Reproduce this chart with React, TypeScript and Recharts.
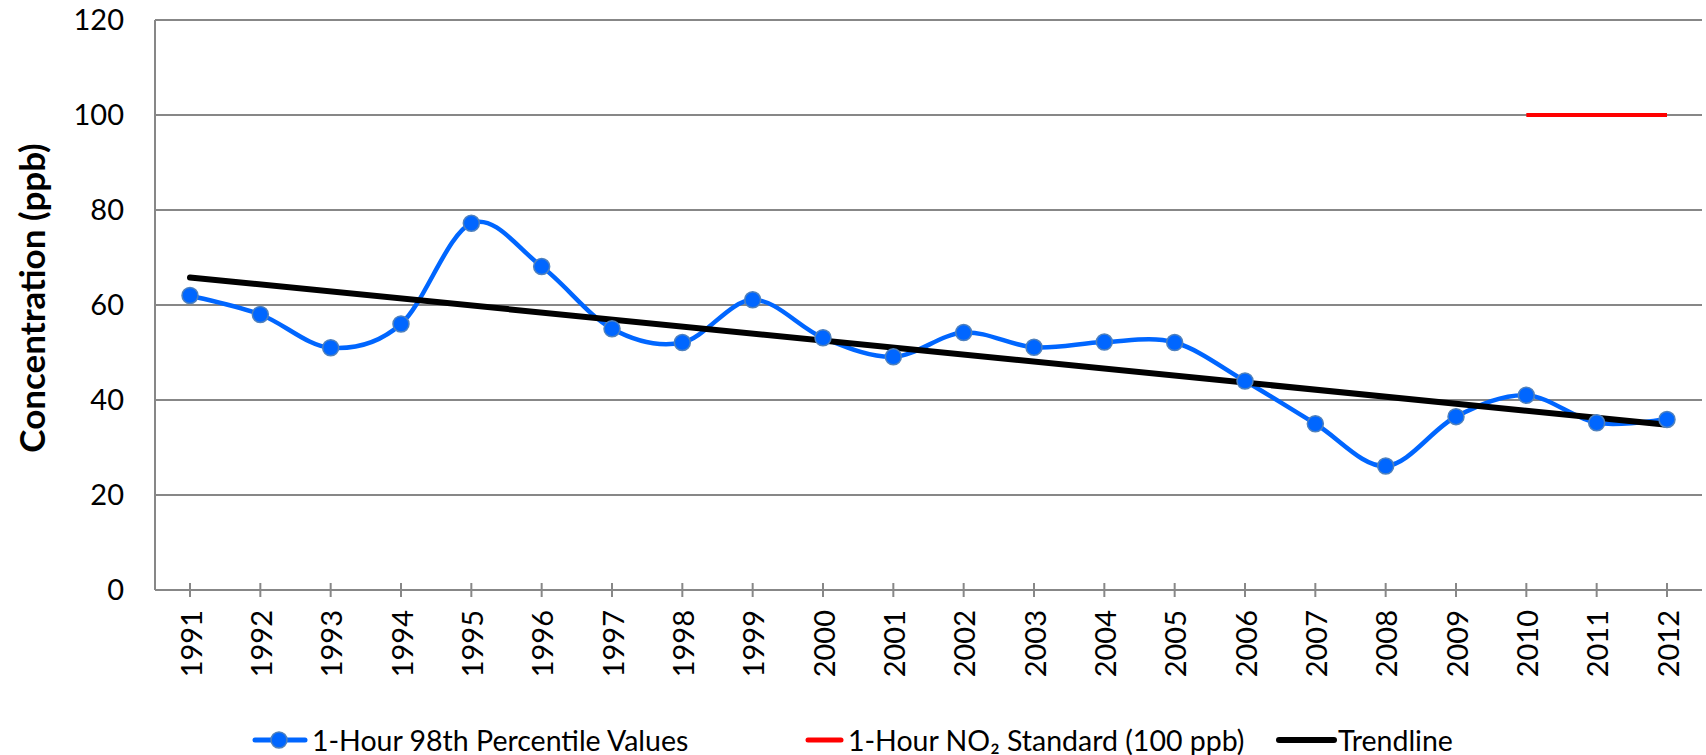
import {
  CartesianGrid,
  Legend,
  Line,
  LineChart,
  XAxis,
  YAxis,
} from 'recharts'

const YEARS = [
  '1991', '1992', '1993', '1994', '1995', '1996', '1997', '1998', '1999', '2000', '2001',
  '2002', '2003', '2004', '2005', '2006', '2007', '2008', '2009', '2010', '2011', '2012',
]

// 1-Hour 98th percentile values (ppb)
const PERCENTILE = [
  62, 58, 51, 56, 77.2, 68.1, 55, 52.1, 61.1, 53.1, 49.1,
  54.2, 51.1, 52.2, 52.1, 44, 35, 26.1, 36.5, 41, 35.2, 35.9,
]

// NO2 standard only drawn for the last three years
const STANDARD = [
  null, null, null, null, null, null, null, null, null, null, null,
  null, null, null, null, null, null, null, null, 100, 100, 100,
]

// trendline endpoints, the line is joined across the gaps
const TREND = [
  65.8, null, null, null, null, null, null, null, null, null, null,
  null, null, null, null, null, null, null, null, null, null, 34.8,
]

const Y_TICKS = [0, 20, 40, 60, 80, 100, 120]

const data = YEARS.map((year, i) => ({
  year,
  percentile: PERCENTILE[i],
  standard: STANDARD[i],
  trend: TREND[i],
}))

const FONT = 'Lato, "Open Sans", sans-serif'
const BLUE = '#0066ff'
const GRID = '#878787'

/** Curva suave no estilo do Excel (Catmull-Rom uniforme). */
function excelSmooth(context: any) {
  let pts: number[][] = []
  return {
    areaStart() {},
    areaEnd() {},
    lineStart() {
      pts = []
    },
    lineEnd() {
      const n = pts.length
      if (n === 0) return
      context.moveTo(pts[0][0], pts[0][1])
      for (let i = 0; i < n - 1; i++) {
        const p0 = pts[Math.max(i - 1, 0)]
        const p1 = pts[i]
        const p2 = pts[i + 1]
        const p3 = pts[Math.min(i + 2, n - 1)]
        context.bezierCurveTo(
          p1[0] + (p2[0] - p0[0]) / 6,
          p1[1] + (p2[1] - p0[1]) / 6,
          p2[0] - (p3[0] - p1[0]) / 6,
          p2[1] - (p3[1] - p1[1]) / 6,
          p2[0],
          p2[1],
        )
      }
    },
    point(x: number, y: number) {
      pts.push([+x, +y])
    },
  }
}

function YearTick({ x, y, payload }: any) {
  const ty = y + 20
  return (
    <g>
      <line x1={x} x2={x} y1={y - 7} y2={y + 7} stroke={GRID} strokeWidth={2} />
      <text
        x={x}
        y={ty}
        transform={`rotate(-90 ${x} ${ty})`}
        textAnchor="end"
        dominantBaseline="central"
        fontFamily={FONT}
        fontSize={29}
        fill="#000"
      >
        {payload.value}
      </text>
    </g>
  )
}

function YLabel({ viewBox }: any) {
  const x = viewBox.x + 31
  const y = viewBox.y + viewBox.height / 2 - 7
  return (
    <text
      x={x}
      y={y}
      transform={`rotate(-90 ${x} ${y})`}
      textAnchor="middle"
      dominantBaseline="central"
      fontFamily={FONT}
      fontSize={35}
      fontWeight={700}
      fill="#000"
    >
      Concentration (ppb)
    </text>
  )
}

function ChartLegend() {
  const text = { fontFamily: FONT, fontSize: 28.5, color: '#000', marginLeft: 4 }
  return (
    <div
      style={{
        height: 55,
        boxSizing: 'border-box',
        paddingTop: 25,
        paddingLeft: 252,
        display: 'flex',
        alignItems: 'center',
      }}
    >
      <div style={{ width: 553, display: 'flex', alignItems: 'center' }}>
        <svg width={56} height={20}>
          <line x1={3} x2={53} y1={10} y2={10} stroke={BLUE} strokeWidth={5} strokeLinecap="round" />
          <circle cx={27} cy={10} r={8} fill={BLUE} stroke="#4f81bd" strokeWidth={1.5} />
        </svg>
        <span style={text}>1-Hour 98th Percentile Values</span>
      </div>
      <div style={{ width: 471, display: 'flex', alignItems: 'center' }}>
        <svg width={39} height={20}>
          <line x1={3} x2={36} y1={10} y2={10} stroke="#ff0000" strokeWidth={5} strokeLinecap="round" />
        </svg>
        <span style={text}>1-Hour NO₂ Standard (100 ppb)</span>
      </div>
      <div style={{ display: 'flex', alignItems: 'center' }}>
        <svg width={61} height={20}>
          <line x1={3} x2={58} y1={10} y2={10} stroke="#000" strokeWidth={6} strokeLinecap="round" />
        </svg>
        <span style={{ ...text, marginLeft: 1 }}>Trendline</span>
      </div>
    </div>
  )
}

export default function App() {
  return (
    <div style={{ position: 'absolute', left: 0, top: 0, background: '#fff' }}>
      <LineChart
        width={1706}
        height={755}
        data={data}
        margin={{ top: 20, right: 4, left: 0, bottom: 0 }}
      >
        <CartesianGrid vertical={false} stroke={GRID} strokeWidth={2} />
        <XAxis
          dataKey="year"
          interval={0}
          height={110}
          padding={{ left: 35, right: 35 }}
          tickLine={false}
          tickSize={0}
          tickMargin={0}
          tick={<YearTick />}
          axisLine={{ stroke: GRID, strokeWidth: 2 }}
        />
        <XAxis
          xAxisId="top"
          dataKey="year"
          orientation="top"
          height={0}
          tick={false}
          tickLine={false}
          axisLine={{ stroke: '#000', strokeWidth: 2 }}
        />
        <YAxis
          width={155}
          domain={[0, 120]}
          ticks={Y_TICKS}
          tickLine={false}
          tickSize={0}
          tickMargin={31}
          tick={{ fontFamily: FONT, fontSize: 29, fill: '#000' }}
          axisLine={{ stroke: GRID, strokeWidth: 2 }}
          label={YLabel}
        />
        <YAxis
          yAxisId="right"
          orientation="right"
          width={0}
          domain={[0, 120]}
          tick={false}
          tickLine={false}
          axisLine={{ stroke: '#000', strokeWidth: 2 }}
        />
        <Legend verticalAlign="bottom" content={ChartLegend} />
        <Line
          dataKey="percentile"
          type={excelSmooth as any}
          stroke={BLUE}
          strokeWidth={4.5}
          dot={{ r: 8, fill: BLUE, stroke: '#4f81bd', strokeWidth: 1.5 }}
          activeDot={false}
          isAnimationActive={false}
        />
        <Line
          dataKey="standard"
          type="linear"
          stroke="#ff0000"
          strokeWidth={4}
          dot={false}
          activeDot={false}
          isAnimationActive={false}
        />
        <Line
          dataKey="trend"
          type="linear"
          stroke="#000"
          strokeWidth={6}
          strokeLinecap="round"
          connectNulls
          dot={false}
          activeDot={false}
          isAnimationActive={false}
        />
      </LineChart>
    </div>
  )
}
